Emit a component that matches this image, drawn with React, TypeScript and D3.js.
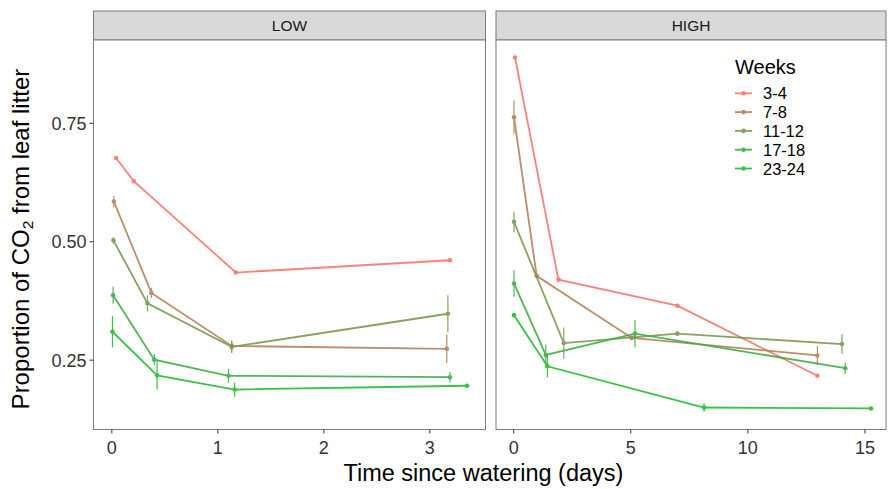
import React from "react";
import * as d3 from "d3";

const weeks = ["3-4", "7-8", "11-12", "17-18", "23-24"];
const colors = ["#F8766D", "#B5825A", "#7C9A50", "#3FAF48", "#22BE30"];

const panelNames = ["LOW", "HIGH"];

const lowDays = [
  [0.04, 0.207, 1.17, 3.19],
  [0.019, 0.373, 1.131, 3.16],
  [0.015, 0.336, 1.131, 3.17],
  [0.012, 0.4, 1.1, 3.19],
  [0.006, 0.427, 1.159, 3.35],
];
const lowVals = [
  [0.677, 0.628, 0.435, 0.461],
  [0.585, 0.392, 0.28, 0.274],
  [0.503, 0.37, 0.278, 0.348],
  [0.387, 0.251, 0.217, 0.214],
  [0.31, 0.218, 0.188, 0.196],
];
const lowErr = [
  [0.002, 0.002, 0.003, 0.003],
  [0.012, 0.011, 0.011, 0.03],
  [0.007, 0.017, 0.013, 0.039],
  [0.018, 0.012, 0.015, 0.011],
  [0.033, 0.03, 0.015, 0.003],
];

const highDays = [
  [0.056, 1.91, 6.99, 12.97],
  [0.013, 0.98, 5.04, 12.97],
  [0.013, 2.14, 6.99, 14.02],
  [0.013, 1.37, 5.18, 14.16],
  [0.013, 1.44, 8.13, 15.26],
];
const highVals = [
  [0.889, 0.42, 0.365, 0.217],
  [0.763, 0.428, 0.297, 0.26],
  [0.542, 0.286, 0.306, 0.284],
  [0.412, 0.261, 0.306, 0.233],
  [0.345, 0.237, 0.15, 0.148],
];
const highErr = [
  [0.003, 0.003, 0.003, 0.003],
  [0.035, 0.003, 0.005, 0.02],
  [0.022, 0.033, 0.004, 0.021],
  [0.028, 0.022, 0.029, 0.012],
  [0.003, 0.023, 0.009, 0.003],
];

const yTicks = [0.25, 0.5, 0.75];
const lowXTicks = [0, 1, 2, 3];
const highXTicks = [0, 5, 10, 15];

const W = 888;
const H = 489;
const panelTop = 40;
const panelBottom = 429.5;
const stripTop = 11;
const FONT = "Liberation Sans, Arial, Helvetica, sans-serif";

const y = d3.scaleLinear().domain([0.1036, 0.926]).range([panelBottom, panelTop]);

const panels = [
  {
    name: panelNames[0],
    x0: 93.5,
    x1: 485.5,
    domain: [-0.173, 3.525],
    ticks: lowXTicks,
    days: lowDays,
    vals: lowVals,
    errs: lowErr,
  },
  {
    name: panelNames[1],
    x0: 496,
    x1: 886,
    domain: [-0.756, 15.9],
    ticks: highXTicks,
    days: highDays,
    vals: highVals,
    errs: highErr,
  },
];

export default function App() {
  const line = d3.line<[number, number]>();
  return (
    <svg
      width={W}
      height={H}
      style={{ position: "absolute", left: 0, top: 0, background: "#fff" }}
      fontFamily={FONT}
    >
      <rect x={0} y={0} width={W} height={H} fill="#fff" />
      {panels.map((p, pi) => {
        const x = d3.scaleLinear().domain(p.domain).range([p.x0, p.x1]);
        return (
          <g key={pi}>
            <rect
              x={p.x0}
              y={stripTop}
              width={p.x1 - p.x0}
              height={panelTop - stripTop}
              fill="#D9D9D9"
              stroke="#7a7a7a"
              strokeWidth={1}
            />
            <text
              x={(p.x0 + p.x1) / 2}
              y={(stripTop + panelTop) / 2 + 5.5}
              textAnchor="middle"
              fontSize={15.5}
              fill="#1a1a1a"
            >
              {p.name}
            </text>
            <rect
              x={p.x0}
              y={panelTop}
              width={p.x1 - p.x0}
              height={panelBottom - panelTop}
              fill="#fff"
              stroke="#7a7a7a"
              strokeWidth={1}
            />
            {p.ticks.map((t) => (
              <g key={t}>
                <line
                  x1={x(t)}
                  x2={x(t)}
                  y1={panelBottom}
                  y2={panelBottom + 4}
                  stroke="#333"
                  strokeWidth={1}
                />
                <text
                  x={x(t)}
                  y={454}
                  textAnchor="middle"
                  fontSize={18}
                  fill="#333"
                >
                  {t}
                </text>
              </g>
            ))}
            {pi === 0 &&
              yTicks.map((t) => (
                <g key={t}>
                  <line
                    x1={p.x0 - 4}
                    x2={p.x0}
                    y1={y(t)}
                    y2={y(t)}
                    stroke="#333"
                    strokeWidth={1}
                  />
                  <text
                    x={p.x0 - 7}
                    y={y(t) + 6.5}
                    textAnchor="end"
                    fontSize={18}
                    fill="#333"
                  >
                    {t.toFixed(2)}
                  </text>
                </g>
              ))}
            {weeks.map((w, si) => {
              const pts: [number, number][] = p.days[si].map((d, i) => [
                x(d),
                y(p.vals[si][i]),
              ]);
              return (
                <g key={w} opacity={0.9}>
                  <path
                    d={line(pts) || ""}
                    fill="none"
                    stroke={colors[si]}
                    strokeWidth={1.8}
                  />
                  {p.days[si].map((d, i) => (
                    <line
                      key={"e" + i}
                      x1={x(d)}
                      x2={x(d)}
                      y1={y(p.vals[si][i] - p.errs[si][i])}
                      y2={y(p.vals[si][i] + p.errs[si][i])}
                      stroke={colors[si]}
                      strokeWidth={1.2}
                    />
                  ))}
                  {pts.map((pt, i) => (
                    <circle
                      key={"c" + i}
                      cx={pt[0]}
                      cy={pt[1]}
                      r={2.3}
                      fill={colors[si]}
                    />
                  ))}
                </g>
              );
            })}
          </g>
        );
      })}
      <text x={735} y={74} fontSize={20} fill="#000">
        Weeks
      </text>
      {weeks.map((w, si) => {
        const cy = 93.3 + si * 18.8;
        return (
          <g key={w}>
            <g opacity={0.9}>
              <line
                x1={735}
                x2={752}
                y1={cy}
                y2={cy}
                stroke={colors[si]}
                strokeWidth={1.8}
              />
              <circle cx={743.5} cy={cy} r={2.3} fill={colors[si]} />
            </g>
            <text x={763} y={cy + 6} fontSize={16.5} fill="#000">
              {w}
            </text>
          </g>
        );
      })}
      <text x={483.4} y={481} textAnchor="middle" fontSize={23.5} fill="#000">
        Time since watering (days)
      </text>
      <text
        transform="translate(29,239) rotate(-90)"
        textAnchor="middle"
        fontSize={24}
        fill="#000"
      >
        Proportion of CO
        <tspan fontSize={15.5} dy={4}>
          2
        </tspan>
        <tspan dy={-4}> from leaf litter</tspan>
      </text>
    </svg>
  );
}
